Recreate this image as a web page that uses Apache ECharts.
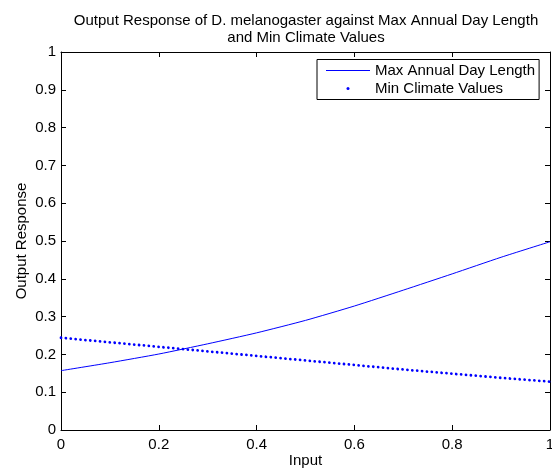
<!DOCTYPE html>
<html>
<head>
<meta charset="utf-8">
<script src="https://cdn.jsdelivr.net/npm/echarts@6/dist/echarts.min.js"></script>
<style>html,body{margin:0;padding:0;background:#fff}#c{width:552px;height:470px}</style>
</head>
<body>
<div id="c"></div>
<script>
const titleLines = ['Output Response of D. melanogaster against Max Annual Day Length', 'and Min Climate Values'];
const seriesNames = ['Max Annual Day Length', 'Min Climate Values'];
const xValues = [0, 0.1, 0.2, 0.3, 0.4, 0.5, 0.6, 0.7, 0.8, 0.9, 1.0];
const dayLength = [0.157, 0.178, 0.201, 0.228, 0.257, 0.290, 0.328, 0.370, 0.413, 0.457, 0.498];
const minClimate = [0.244, 0.232, 0.220, 0.208, 0.196, 0.184, 0.172, 0.160, 0.149, 0.138, 0.128];
const xTicks = [0, 0.2, 0.4, 0.6, 0.8, 1];
const yTicks = [0, 0.1, 0.2, 0.3, 0.4, 0.5, 0.6, 0.7, 0.8, 0.9, 1];
const xName = 'Input';
const yName = 'Output Response';

const FONT = 'Liberation Sans, Arial, Helvetica, sans-serif';
const FS = 15;
const BLUE = '#0000ff';

function pairs(xs, ys) { return xs.map((x, i) => [x, ys[i]]); }

const axisCommon = {
  axisLine: { show: true, onZero: false, lineStyle: { color: '#000', width: 1 } },
  axisTick: { show: true, inside: true, length: 5, lineStyle: { color: '#000' } },
  splitLine: { show: false }
};

const chart = echarts.init(document.getElementById('c'), null, { renderer: 'canvas' });
chart.setOption({
  animation: false,
  backgroundColor: '#fff',
  textStyle: { fontFamily: FONT },
  title: {
    text: titleLines.join('\n'),
    left: 301, top: 7, textAlign: 'center',
    textStyle: { fontFamily: FONT, fontSize: FS, fontWeight: 'normal', color: '#000', lineHeight: 17 }
  },
  grid: { left: 61, right: 2, top: 52, bottom: 40, containLabel: false, outerBoundsMode: 'none' },
  legend: {
    orient: 'vertical', left: 317, top: 59.5,
    padding: [3, 4, 3, 9], itemGap: 2, itemWidth: 44, itemHeight: 3,
    borderColor: '#000', borderWidth: 1, backgroundColor: '#fff', borderRadius: 0,
    textStyle: { fontFamily: FONT, fontSize: FS, color: '#000', lineHeight: 16 },
    data: [
      { name: seriesNames[0], icon: 'path://M0,0 M0,3 M0,1 L44,1 L44,2 L0,2 Z', itemStyle: { color: BLUE, borderWidth: 0 } },
      { name: seriesNames[1], icon: 'circle', itemStyle: { color: BLUE, borderWidth: 0 } }
    ],
    selectedMode: false
  },
  xAxis: [
    Object.assign({}, axisCommon, {
      type: 'value', position: 'bottom', min: xTicks[0], max: xTicks[xTicks.length - 1], interval: xTicks[1] - xTicks[0],
      name: xName, nameLocation: 'middle', nameGap: 23, nameMoveOverlap: false,
      nameTextStyle: { fontFamily: FONT, fontSize: FS, color: '#000' },
      axisLabel: { show: true, margin: 7, color: '#000', fontFamily: FONT, fontSize: FS }
    }),
    Object.assign({}, axisCommon, {
      type: 'value', position: 'top', min: xTicks[0], max: xTicks[xTicks.length - 1], interval: xTicks[1] - xTicks[0],
      axisLabel: { show: false }
    })
  ],
  yAxis: [
    Object.assign({}, axisCommon, {
      type: 'value', position: 'left', min: yTicks[0], max: yTicks[yTicks.length - 1], interval: yTicks[1] - yTicks[0],
      name: yName, nameLocation: 'middle', nameGap: 32, nameRotate: 90, nameMoveOverlap: false,
      nameTextStyle: { fontFamily: FONT, fontSize: FS, color: '#000' },
      axisLabel: { show: true, margin: 5, color: '#000', fontFamily: FONT, fontSize: FS }
    }),
    Object.assign({}, axisCommon, {
      type: 'value', position: 'right', min: yTicks[0], max: yTicks[yTicks.length - 1], interval: yTicks[1] - yTicks[0],
      axisLabel: { show: false }
    })
  ],
  series: [
    {
      name: seriesNames[0], type: 'line', xAxisIndex: 0, yAxisIndex: 0,
      data: pairs(xValues, dayLength), symbol: 'none', smooth: 0.2,
      lineStyle: { color: BLUE, width: 1 }, itemStyle: { color: BLUE }
    },
    {
      name: seriesNames[1], type: 'line', xAxisIndex: 0, yAxisIndex: 0,
      data: pairs(xValues, minClimate), symbol: 'none',
      lineStyle: { color: BLUE, width: 2.8, type: [0.01, 4.89], cap: 'round' },
      itemStyle: { color: BLUE }
    }
  ]
});
</script>
</body>
</html>
